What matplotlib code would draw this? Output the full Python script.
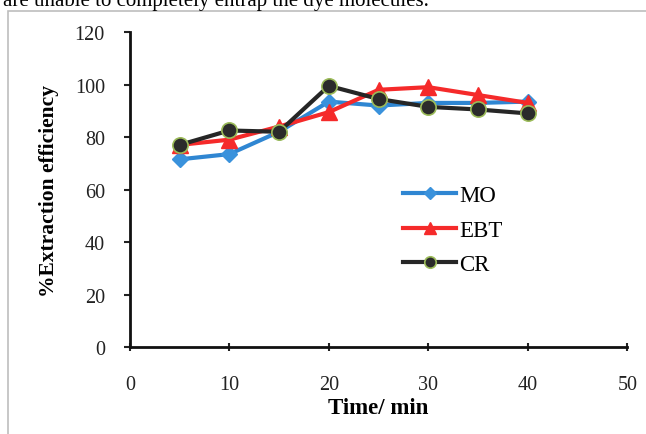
import numpy as np
import matplotlib.pyplot as plt
from matplotlib.patches import Rectangle

time_min = [5, 10, 15, 20, 25, 30, 35, 40]
mo = [71.5, 73.5, 82, 93.5, 92, 93, 93, 93.5]
ebt = [77, 79, 84, 89.5, 98, 99, 96, 93]
cr = [77, 82.5, 82, 99.5, 94.5, 91.5, 90.5, 89]

x_ticks = [0, 10, 20, 30, 40, 50]
y_ticks = [0, 20, 40, 60, 80, 100, 120]

plt.rcParams['font.family'] = ['Liberation Serif', 'DejaVu Serif']

fig = plt.figure(figsize=(6.46, 4.35), dpi=100)
ax = fig.add_axes([0.201, 0.2, 0.770, 0.724])

# page text cut off at top + chart frame
fig.text(0.005, 0.997, "are unable to completely entrap the dye molecules.",
         fontsize=15, va='center', ha='left')
fig.patches.append(Rectangle((8/646, -0.05), 1.0, 1 - 12/435 + 0.05,
                             transform=fig.transFigure, fill=False,
                             edgecolor='#bdbdbd', linewidth=1.2))

ax.plot(time_min, mo, color='#2F86D2', lw=3, marker='D', ms=8,
        mfc='#3A92DC', mec='#3A92DC', label='MO', zorder=2)
ax.plot(time_min, ebt, color='#F52A2A', lw=3, marker='^', ms=11,
        mfc='#F52A2A', mec='#F52A2A', label='EBT', zorder=3)
ax.plot(time_min, cr, color='#262626', lw=3, marker='o', ms=11,
        mfc='#2b2b2b', mec='#9BBB59', mew=1.2, label='CR', zorder=4)

ax.set_xlim(0, 50)
ax.set_ylim(0, 120)
ax.set_xticks(x_ticks)
ax.set_yticks(y_ticks)
ax.tick_params(axis='both', labelsize=14.5, direction='out', length=4,
               width=1.5, colors='#222222')
ax.tick_params(axis='x', direction='inout', length=6, pad=17)
ax.tick_params(axis='y', pad=14)
for side in ['top', 'right']:
    ax.spines[side].set_visible(False)
for side in ['left', 'bottom']:
    ax.spines[side].set_linewidth(2)
    ax.spines[side].set_color('#111111')

ax.set_xlabel('Time/ min', fontsize=16.5, fontweight='bold', labelpad=2)
ax.set_ylabel('%Extraction efficiency', fontsize=15.5, fontweight='bold', labelpad=11)

leg = ax.legend(loc='upper left', bbox_to_anchor=(0.527, 0.55), frameon=False,
                fontsize=16.5, handlelength=2.3, handletextpad=0.12,
                labelspacing=0.58, borderpad=0, markerscale=0.75)

fig.savefig('out.png', dpi=100)
